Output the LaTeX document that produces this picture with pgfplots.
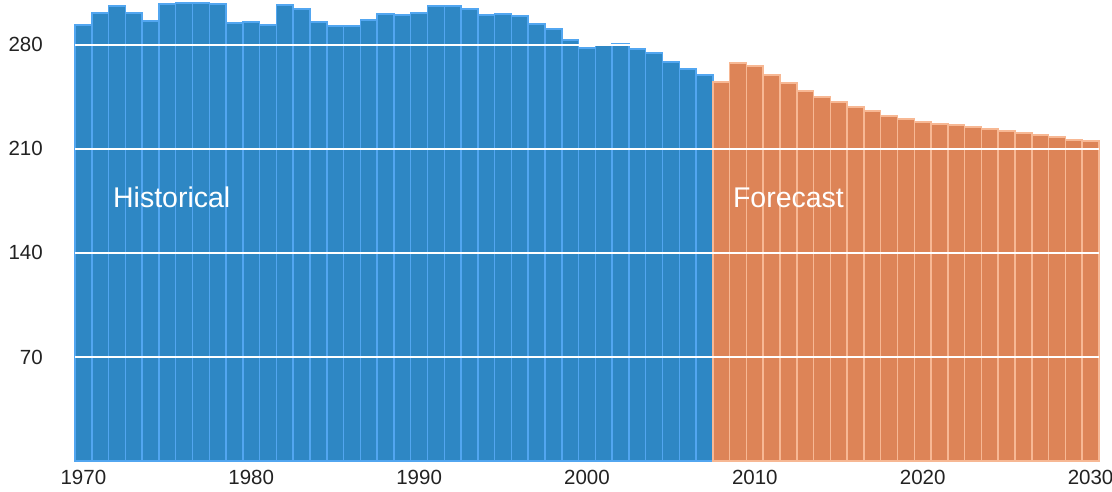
\documentclass[border=0pt]{standalone}
\usepackage{pgfplots}
\pgfplotsset{compat=1.18}
\usepackage{fontspec}
\setmainfont{Liberation Sans}
\definecolor{histfill}{RGB}{46,135,196}
\definecolor{histedge}{RGB}{82,166,240}
\definecolor{forefill}{RGB}{221,132,87}
\definecolor{foreedge}{RGB}{247,184,148}
\definecolor{ticktext}{RGB}{34,34,34}
\begin{document}
\begin{tikzpicture}
\begin{axis}[
  at={(0,0)}, anchor=south west,
  scale only axis, width=1024pt, height=461pt,
  xmin=1969.5, xmax=2030.5, ymin=0, ymax=310.2,
  axis line style={draw=none}, major tick length=0pt,
  xtick={1970,1980,...,2030},
  xticklabels={1970,1980,1990,2000,2010,2020,2030},
  ytick={70,140,210,280}, yticklabels={70,140,210,280},
  ymajorgrids, grid style={white, line width=2.5pt},
  axis on top,
  ticklabel style={font=\fontsize{20.5}{24}\selectfont, text=ticktext, inner sep=0pt},
  yticklabel style={anchor=east, xshift=-32pt},
  xticklabel style={anchor=north, yshift=-9pt},
  clip=false,
  ybar, bar width=1, bar shift=0pt,
]
\addplot[fill=histfill, draw=histedge, line width=1.5pt] coordinates {
(1970,293.5) (1971,301.5) (1972,306.2) (1973,301.6) (1974,296.2)
(1975,307.6) (1976,308.3) (1977,308.3) (1978,307.6) (1979,294.8)
(1980,295.5) (1981,293.5) (1982,306.9) (1983,304.2) (1984,295.5)
(1985,292.8) (1986,292.8) (1987,296.9) (1988,300.8) (1989,300.1)
(1990,301.6) (1991,306.2) (1992,306.2) (1993,304.2) (1994,300.2)
(1995,300.8) (1996,299.5) (1997,294.1) (1998,290.8) (1999,283.3)
(2000,278.0) (2001,280.0) (2002,280.9) (2003,277.3) (2004,274.6)
(2005,268.6) (2006,263.9) (2007,259.8)
};
\addplot[fill=forefill, draw=foreedge, line width=1.5pt] coordinates {
(2008,255.1) (2009,267.9) (2010,265.9) (2011,259.8) (2012,254.2)
(2013,249.0) (2014,245.0) (2015,241.6) (2016,238.3) (2017,235.6)
(2018,232.2) (2019,230.2) (2020,228.2) (2021,226.9) (2022,226.2)
(2023,224.8) (2024,223.5) (2025,222.1) (2026,220.8) (2027,219.4)
(2028,218.1) (2029,216.1) (2030,215.4)
};
\node[anchor=base west, text=white, inner sep=0pt, font=\fontsize{28.5}{34}\selectfont] at (axis cs:1971.76,170.9) {Historical};
\node[anchor=base west, text=white, inner sep=0pt, font=\fontsize{28.5}{34}\selectfont] at (axis cs:2008.69,170.9) {Forecast};
\end{axis}
\pgfresetboundingbox
\path[use as bounding box] (-75pt,-31pt) rectangle (1037pt,461pt);
\end{tikzpicture}
\end{document}
